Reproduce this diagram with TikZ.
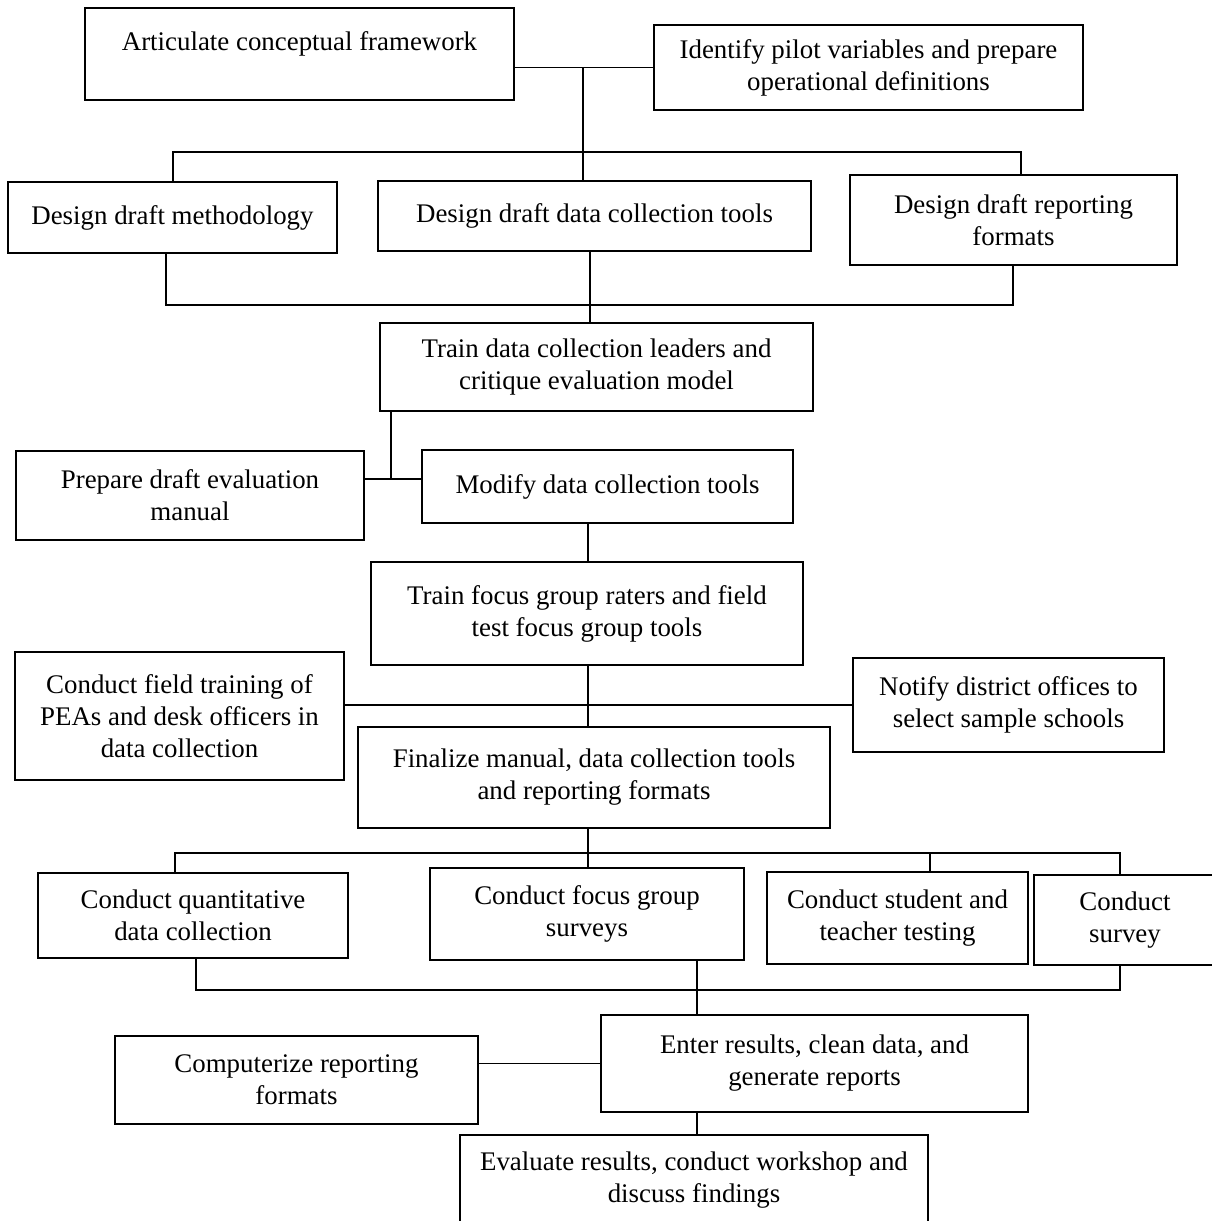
\documentclass[tikz,border=0pt]{standalone}
\usepackage{fontspec}
\setmainfont{Liberation Serif}
\usepackage{tikz}
\tikzset{blk/.style 2 args={draw, line width=1.2pt, inner sep=0pt, align=center,
  minimum width=#1*0.02cm, minimum height=#2*0.02cm, font=\fontsize{15.3}{18.2}\selectfont},
  lnk/.style={line width=1.1pt}}

\begin{document}
\begin{tikzpicture}[x=0.02cm,y=-0.02cm]
\useasboundingbox (0,0) rectangle (1211,1221);
% boxes
\node[blk={429}{92},text depth=0.5cm] (art) at (299.5,54) {Articulate conceptual framework};
\node[blk={429}{85}]  (idf)  at (868.5,67.5) {Identify pilot variables and prepare\\operational definitions};
\node[blk={329}{71}]  (meth) at (172.5,217.5){Design draft methodology};
\node[blk={433}{70}]  (dct)  at (594.5,216)  {Design draft data collection tools};
\node[blk={327}{90}]  (rep)  at (1013.5,220) {Design draft reporting\\formats};
\node[blk={433}{88}]  (tdl)  at (596.5,367)  {Train data collection leaders and\\critique evaluation model};
\node[blk={348}{89}]  (prep) at (190,495.5)  {Prepare draft evaluation\\manual};
\node[blk={371}{73}]  (mod)  at (607.5,486.5){Modify data collection tools};
\node[blk={432}{103}] (fgr)  at (587,613.5)  {Train focus group raters and field\\test focus group tools};
\node[blk={329}{128}] (cft)  at (179.5,716)  {Conduct field training of\\PEAs and desk officers in\\data collection};
\node[blk={311}{94}]  (ntf)  at (1008.5,705) {Notify district offices to\\select sample schools};
\node[blk={472}{101}] (fin)  at (594,777.5)  {Finalize manual, data collection tools\\and reporting formats};
\node[blk={310}{85}]  (cqd)  at (193,915.5)  {Conduct quantitative\\data collection};
\node[blk={314}{92}]  (cfg)  at (587,914)    {Conduct focus group\\surveys};
\node[blk={261}{92}]  (cst)  at (897.5,918)  {Conduct student and\\teacher testing};
\node[blk={182}{90}]  (srv)  at (1125,920)   {Conduct\\survey};
\node[blk={427}{97}]  (ent)  at (814.5,1063.5){Enter results, clean data, and\\generate reports};
\node[blk={363}{88}]  (cmp)  at (296.5,1080) {Computerize reporting\\formats};
\node[blk={468}{90}]  (evl)  at (694,1180)   {Evaluate results, conduct workshop and\\discuss findings};

% junctions
\coordinate (ja) at (583,152);
\coordinate (jal) at (173,152);
\coordinate (jar) at (1021,152);
\coordinate (jb) at (590,305);
\coordinate (jbl) at (166,305);
\coordinate (jbr) at (1013,305);
\coordinate (jc) at (391,479);
\coordinate (jd) at (588,853);
\coordinate (jdl) at (175,853);
\coordinate (jdt) at (930,853);
\coordinate (jdr) at (1120,853);
\coordinate (je) at (697,990);
\coordinate (jel) at (196,990);
\coordinate (jer) at (1120,990);

\draw[lnk] (art.east |- idf.west) -- (idf.west);
\draw[lnk] (ja |- idf.west) -- (ja |- dct.north);
\draw[lnk] (jal |- meth.north) -- (jal) -- (jar) -- (jar |- rep.north);
\draw[lnk] (jbl |- meth.south) -- (jbl) -- (jbr) -- (jbr |- rep.south);
\draw[lnk] (jb |- dct.south) -- (jb |- tdl.north);
\draw[lnk] (jc |- tdl.south) -- (jc);
\draw[lnk] (prep.east |- jc) -- (mod.west |- jc);
\draw[lnk] (fgr.north -| jd) -- (jd |- mod.south);
\draw[lnk] (jd |- fgr.south) -- (jd |- fin.north);
\draw[lnk] (cft.east |- ntf.west) -- (ntf.west);
\draw[lnk] (jd |- fin.south) -- (jd |- cfg.north);
\draw[lnk] (jdl |- cqd.north) -- (jdl) -- (jdr) -- (jdr |- srv.north);
\draw[lnk] (jdt) -- (jdt |- cst.north);
\draw[lnk] (jel |- cqd.south) -- (jel) -- (jer) -- (jer |- srv.south);
\draw[lnk] (je |- cfg.south) -- (je |- ent.north);
\draw[lnk] (cmp.east |- ent.west) -- (ent.west);
\draw[lnk] (je |- ent.south) -- (je |- evl.north);
\end{tikzpicture}
\end{document}
